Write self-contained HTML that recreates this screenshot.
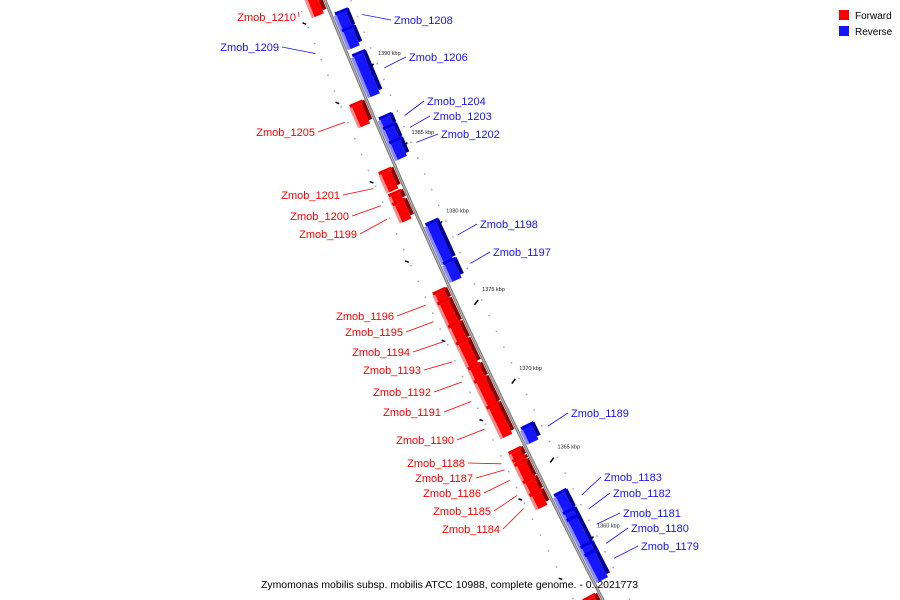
<!DOCTYPE html>
<html><head><meta charset="utf-8"><style>
html,body{margin:0;background:#fff;width:900px;height:600px;overflow:hidden;}
svg{display:block;}
text{font-family:"Liberation Sans",sans-serif;}
</style></head><body>
<svg id="chart" width="900" height="600" viewBox="0 0 900 600" xmlns="http://www.w3.org/2000/svg" overflow="hidden">
<g id="dots"></g>
<g id="ticks"></g>
<path id="backbone" fill="none" stroke="#777" stroke-width="3"></path>
<path id="backbone2" fill="none" stroke="#bbb" stroke-width="1"></path>
<g id="genes"></g>
<g id="labels"></g>
<g>
<rect x="839" y="10" width="10" height="10" fill="#f00"/>
<text x="855" y="19" font-size="10">Forward</text>
<rect x="839" y="26" width="10" height="10" fill="#1515ff"/>
<text x="855" y="35" font-size="10">Reverse</text>
</g>
<text x="261" y="588" font-size="10" textLength="377" lengthAdjust="spacingAndGlyphs">Zymomonas mobilis subsp. mobilis ATCC 10988, complete genome. - 0..2021773</text>
</svg>
<script>
const geneNames=["Zmob_1210","Zmob_1208","Zmob_1209","Zmob_1206","Zmob_1205","Zmob_1204","Zmob_1203","Zmob_1202","Zmob_1201","Zmob_1200","Zmob_1199","Zmob_1198","Zmob_1197","Zmob_1196","Zmob_1195","Zmob_1194","Zmob_1193","Zmob_1192","Zmob_1191","Zmob_1190","Zmob_1189","Zmob_1188","Zmob_1187","Zmob_1186","Zmob_1185","Zmob_1184","Zmob_1183","Zmob_1182","Zmob_1181","Zmob_1180","Zmob_1179","Zmob_1178"];
const geneStart=[1395.19,1393.54,1392.47,1390.89,1388.23,1386.90,1386.27,1385.38,1383.99,1382.59,1382.03,1380.19,1377.72,1376.39,1375.76,1374.30,1373.23,1371.65,1370.82,1369.18,1367.28,1366.33,1365.82,1365.57,1364.49,1363.67,1363.04,1361.90,1361.46,1359.75,1359.24,1357.03];
const geneEnd=[1393.92,1392.47,1391.39,1388.35,1386.96,1386.27,1385.38,1384.37,1382.85,1382.09,1380.95,1377.78,1376.65,1375.76,1374.30,1373.23,1371.77,1370.82,1369.18,1367.34,1366.39,1365.82,1365.57,1364.49,1363.67,1362.85,1361.90,1361.27,1359.75,1359.05,1357.66,1356.27];
const geneStrand=["+","-","-","-","+","-","-","-","+","+","+","-","-","+","+","+","+","+","+","+","-","+","+","+","+","+","-","-","-","-","-","+"];
const tickValues=[1395,1390,1385,1380,1375,1370,1365,1360,1355];
const tickLabels=["1395 kbp","1390 kbp","1385 kbp","1380 kbp","1375 kbp","1370 kbp","1365 kbp","1360 kbp","1355 kbp"];
// label layout (pixel anchor, side): not data
const labelLayout=[[296,17,-1],[394,20,1],[279,47,-1],[409,57,1],[315,132,-1],[427,101,1],[433,116,1],[441,134,1],[340,195,-1],[349,216,-1],[357,234,-1],[480,224,1],[493,252,1],[394,316,-1],[403,332,-1],[410,352,-1],[421,370,-1],[431,392,-1],[441,412,-1],[454,440,-1],[571,413,1],[465,463,-1],[473,478,-1],[481,493,-1],[491,511,-1],[500,529,-1],[604,477,1],[613,493,1],[623,513,1],[631,528,1],[641,546,1],null];

const NS="http://www.w3.org/2000/svg";
function yOf(k){return 73+(1390-k)*15.8;}
function X(ly){return 325+0.4058*ly+0.0000958*ly*ly;}
function P(ly,d){const s=0.4058+0.0001916*ly;const n=Math.sqrt(1+s*s);return [X(ly)+d/n,ly-d*s/n];}
function mk(tag,attrs,parent){const e=document.createElementNS(NS,tag);for(const k in attrs)e.setAttribute(k,attrs[k]);parent.appendChild(e);return e;}
function band(l1,l2,d1,d2,sh){const pts=[];const N=4;for(let i=0;i<=N;i++){const l=l1+(l2-l1)*i/N;pts.push(P(l,d1));}
for(let i=N;i>=0;i--){const l=l1+(l2-l1)*i/N;pts.push(P(l+(sh||0),d2));}return pts.map(p=>p[0].toFixed(1)+","+p[1].toFixed(1)).join(" ");}

let dd="";for(let ly=-10;ly<=620;ly+=10){const p=P(ly,0);dd+=(ly===-10?"M":"L")+p[0].toFixed(1)+" "+p[1].toFixed(1);}
document.getElementById("backbone").setAttribute("d",dd);
document.getElementById("backbone2").setAttribute("d",dd);

const gd=document.getElementById("dots");
for(let k=1396;k>=1355;k-=1){const l=yOf(k);
 [[24,0],[-26,8]].forEach(o=>{const p=P(l+o[1],o[0]);const c=mk("circle",{cx:p[0],cy:p[1],r:0.9,fill:"#aaa"},gd);
 
 });}
const gt=document.getElementById("ticks");
tickValues.forEach((k,i)=>{const l=yOf(k);
 const a=P(l,16),b=P(l,20);const t=mk("line",{x1:a[0],y1:a[1]+1.5,x2:b[0],y2:b[1]-1.5,stroke:"#000","stroke-width":1.5},gt);
 
 
 const c=P(l+19,-26),e=P(l+19,-30);const t2=mk("line",{x1:c[0],y1:c[1]+1.5,x2:e[0],y2:e[1]-1.5,stroke:"#000","stroke-width":1.5},gt);
 
 
 const tp=P(l-7,28);const tx=mk("text",{x:tp[0],y:tp[1],"font-size":"5.5","font-family":"Liberation Serif,serif",fill:"#222"},gt);
 tx.textContent=tickLabels[i];
 
 });

const gg=document.getElementById("genes"),gl=document.getElementById("labels");
geneNames.forEach((nm,i)=>{const l1=yOf(geneStart[i]),l2=yOf(geneEnd[i]);const fw=geneStrand[i]==="+";
 const g=mk("g",{},gg);
 
 
 if(fw){
  mk("polygon",{points:band(l1,l2,-19,-16),fill:"#ff8a8a"},g);
  mk("polygon",{points:band(l1,l2,-16,-6),fill:"#f00"},g);
  mk("polygon",{points:band(l1-2,l2-3,-6,-2,0),fill:"#800"},g);
  mk("polygon",{points:band(l1-3,l1,-18,-4),fill:"#e00"},g);
 }else{
  mk("polygon",{points:band(l1,l2,2,5),fill:"#8a8aff"},g);
  mk("polygon",{points:band(l1,l2,5,15),fill:"#1515ff"},g);
  mk("polygon",{points:band(l1-2,l2-3,15,19),fill:"#000090"},g);
  mk("polygon",{points:band(l1-3,l1,4,18),fill:"#0000e0"},g);
 }
 const L=labelLayout[i];if(!L)return;
 const col=fw?"#f00":"#1515ff";
 const side=L[2];const end=P((l1+l2)/2,side*29);
 const sx=side>0?L[0]-3:L[0]+3;
 const ln=mk("line",{x1:sx,y1:L[1],x2:end[0],y2:end[1],stroke:col,"stroke-width":0.8},gl);
 
 
 const tx=mk("text",{x:L[0],y:L[1]+4,"font-size":"11",fill:col,"text-anchor":side>0?"start":"end"},gl);
 tx.textContent=nm;
 
 
});
</script>
</body></html>
